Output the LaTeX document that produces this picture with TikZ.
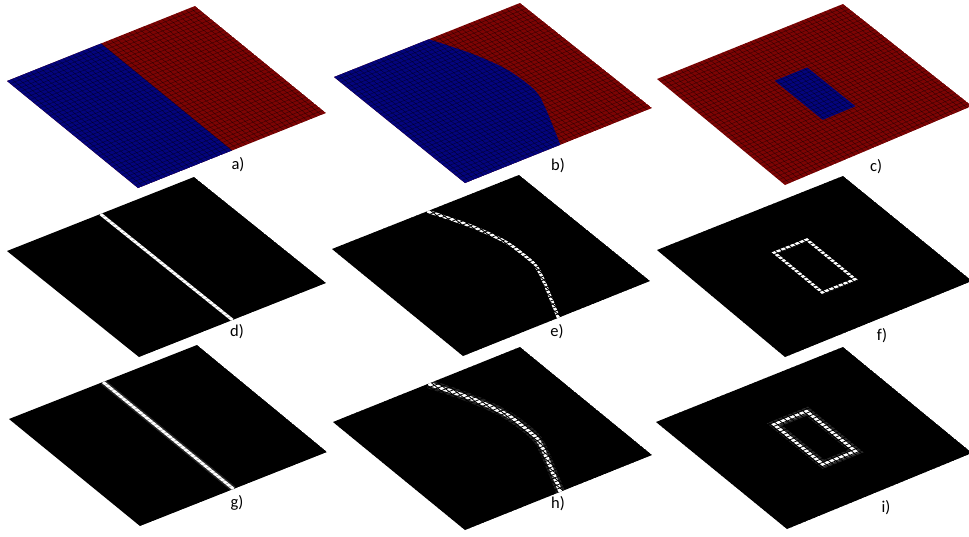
\documentclass[tikz,border=0pt]{standalone}
\usepackage{fontspec}
\setmainfont{Carlito}
\usetikzlibrary{calc}
\definecolor{meshred}{RGB}{125,4,4}
\definecolor{meshblue}{RGB}{4,4,125}
\tikzset{
  gridc/.style={black, opacity=0.5, line width=0.45pt},
  gridk/.style={black, line width=0.8pt},
  gridthin/.style={black, opacity=0.45, line width=0.4pt},
  whiteline/.style={white, line width=3.2pt},
  halo/.style={black!55!white, line width=7pt, opacity=0.5},
  lbl/.style={font=\fontsize{16.5}{18}\selectfont, inner sep=0pt, text=black},
}
\newcommand\meshlines[2]{%
  \foreach \k in {1,...,39}{%
    \pgfmathsetmacro\f{\k/40}
    \draw[#2] ($(#1L)!\f!(#1T)$) -- ($(#1B)!\f!(#1R)$);
    \draw[#2] ($(#1L)!\f!(#1B)$) -- ($(#1T)!\f!(#1R)$);
  }}
\newcommand\crosslines[2]{%
  \foreach \k in {1,...,39}{%
    \pgfmathsetmacro\f{\k/40}
    \draw[#2] ($(#1L)!\f!(#1B)$) -- ($(#1T)!\f!(#1R)$);
  }}
\newcommand\quadpath[1]{(#1L) -- (#1T) -- (#1R) -- (#1B) -- cycle}
\newcommand\defpt[4]{%
  \coordinate (tmpA) at ($(#1L)!#3!(#1T)$);
  \coordinate (tmpB) at ($(#1B)!#3!(#1R)$);
  \coordinate (#2) at ($(tmpA)!#4!(tmpB)$);}
\newcommand\defcurve[1]{%
  \defpt{#1}{#1c0}{0.51}{0}
  \defpt{#1}{#1c1}{0.6}{0.2}
  \defpt{#1}{#1c2}{0.655}{0.39}
  \defpt{#1}{#1c3}{0.662}{0.59}
  \defpt{#1}{#1c4}{0.62}{0.73}
  \defpt{#1}{#1c5}{0.51}{1}}
\newcommand\defrect[1]{%
  \defpt{#1}{#1r1}{0.415}{0.315}
  \defpt{#1}{#1r2}{0.59}{0.315}
  \defpt{#1}{#1r3}{0.59}{0.69}
  \defpt{#1}{#1r4}{0.415}{0.69}}
\begin{document}
\begin{tikzpicture}[x=1pt,y=-1pt]
\useasboundingbox (0,0) rectangle (969,536);
% corners
\coordinate (aL) at (7,81);   \coordinate (aT) at (195,6);   \coordinate (aR) at (326,113); \coordinate (aB) at (138,188);
\coordinate (bL) at (334,77); \coordinate (bT) at (520,3);   \coordinate (bR) at (652,108); \coordinate (bB) at (465,183);
\coordinate (cL) at (657,79); \coordinate (cT) at (843,4);   \coordinate (cR) at (972,106); \coordinate (cB) at (785,185);
\coordinate (dL) at (7,251);  \coordinate (dT) at (194,177); \coordinate (dR) at (326,283); \coordinate (dB) at (139,357);
\coordinate (eL) at (332,249);\coordinate (eT) at (519,175); \coordinate (eR) at (650,281); \coordinate (eB) at (463,356);
\coordinate (fL) at (657,250);\coordinate (fT) at (843,176); \coordinate (fR) at (972,281); \coordinate (fB) at (785,357);
\coordinate (gL) at (9,419);  \coordinate (gT) at (197,345); \coordinate (gR) at (327,452); \coordinate (gB) at (140,526);
\coordinate (hL) at (333,422);\coordinate (hT) at (520,347); \coordinate (hR) at (652,455); \coordinate (hB) at (465,530);
\coordinate (iL) at (656,422);\coordinate (iT) at (843,347); \coordinate (iR) at (972,453); \coordinate (iB) at (787,529);

% ---- a
\begin{scope}
  \clip \quadpath{a};
  \fill[meshred] \quadpath{a};
  \defpt{a}{am0}{0.5}{0} \defpt{a}{am1}{0.5}{1}
  \fill[meshblue] (aL) -- (am0) -- (am1) -- (aB) -- cycle;
  \meshlines{a}{gridc}
\end{scope}
% ---- b
\begin{scope}
  \clip \quadpath{b};
  \fill[meshred] \quadpath{b};
  \defcurve{b}
  \fill[meshblue] (bL) -- plot[smooth] coordinates {(bc0) (bc1) (bc2) (bc3) (bc4) (bc5)} -- (bB) -- cycle;
  \meshlines{b}{gridc}
\end{scope}
% ---- c
\begin{scope}
  \clip \quadpath{c};
  \fill[meshred] \quadpath{c};
  \defrect{c}
  \fill[meshblue] (cr1) -- (cr2) -- (cr3) -- (cr4) -- cycle;
  \meshlines{c}{gridc}
\end{scope}
% ---- d
\begin{scope}
  \clip \quadpath{d};
  \fill[black] \quadpath{d};
  \defpt{d}{dm0}{0.5}{0} \defpt{d}{dm1}{0.5}{1}
  \draw[whiteline, line width=3pt] (dm0) -- (dm1);
  \crosslines{d}{gridthin}
\end{scope}
% ---- e
\begin{scope}
  \clip \quadpath{e};
  \fill[black] \quadpath{e};
  \defcurve{e}
  \draw[whiteline] plot[smooth] coordinates {(ec0) (ec1) (ec2) (ec3) (ec4) (ec5)};
  \meshlines{e}{gridk}
\end{scope}
% ---- f
\begin{scope}
  \clip \quadpath{f};
  \fill[black] \quadpath{f};
  \defrect{f}
  \draw[whiteline] (fr1) -- (fr2) -- (fr3) -- (fr4) -- cycle;
  \meshlines{f}{gridk}
\end{scope}
% ---- g
\begin{scope}
  \clip \quadpath{g};
  \fill[black] \quadpath{g};
  \defpt{g}{gm0}{0.5}{0} \defpt{g}{gm1}{0.5}{1}
  \draw[halo, line width=6pt, opacity=0.35] (gm0) -- (gm1);
  \draw[whiteline, line width=3pt] (gm0) -- (gm1);
  \crosslines{g}{gridthin}
\end{scope}
% ---- h
\begin{scope}
  \clip \quadpath{h};
  \fill[black] \quadpath{h};
  \defcurve{h}
  \draw[halo, line width=9pt, opacity=0.3] plot[smooth] coordinates {(hc0) (hc1) (hc2) (hc3) (hc4) (hc5)};
  \draw[whiteline, line width=4pt] plot[smooth] coordinates {(hc0) (hc1) (hc2) (hc3) (hc4) (hc5)};
  \meshlines{h}{gridk}
\end{scope}
% ---- i
\begin{scope}
  \clip \quadpath{i};
  \fill[black] \quadpath{i};
  \defrect{i}
  \draw[halo, line width=8pt, opacity=0.35] (ir1) -- (ir2) -- (ir3) -- (ir4) -- cycle;
  \draw[whiteline, line width=4pt] (ir1) -- (ir2) -- (ir3) -- (ir4) -- cycle;
  \meshlines{i}{gridk}
\end{scope}

% labels
\node[lbl] (la) at (238,165) {a)};
\node[lbl] (lb) at (558,166) {b)};
\node[lbl] (lc) at (876,167) {c)};
\node[lbl] (ld) at (237,332) {d)};
\node[lbl] (le) at (557,332) {e)};
\node[lbl] (lf) at (882,336) {f)};
\node[lbl] (lg) at (237,503) {g)};
\node[lbl] (lh) at (558,504) {h)};
\node[lbl] (li) at (886,508) {i)};
\end{tikzpicture}
\end{document}
